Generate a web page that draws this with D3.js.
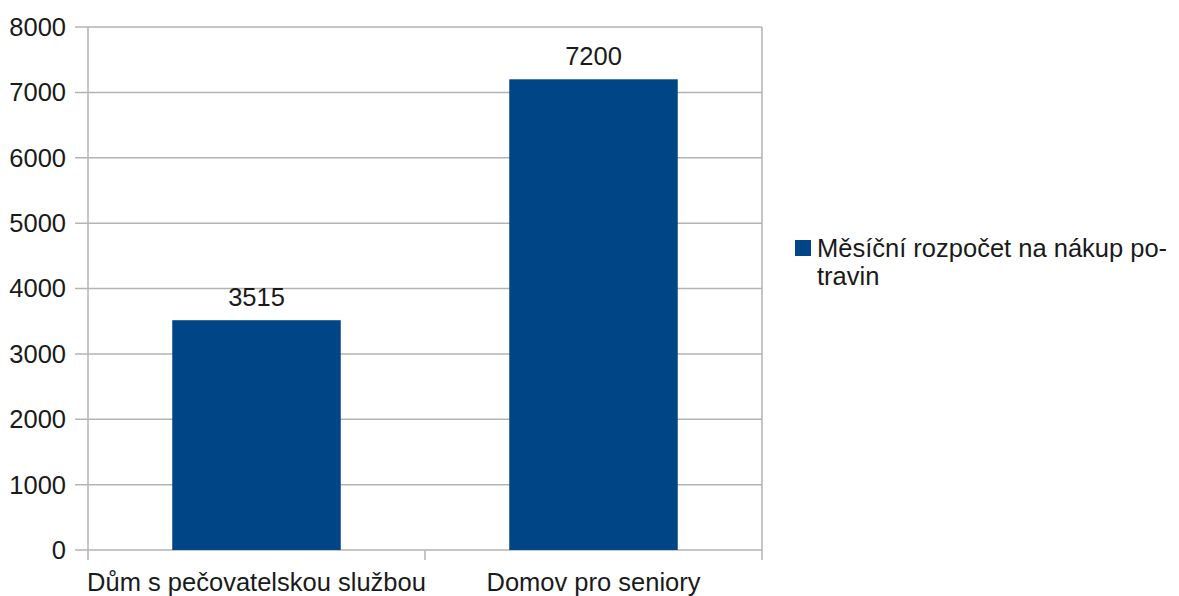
<!DOCTYPE html>
<html>
<head>
<meta charset="utf-8">
<script src="https://cdn.jsdelivr.net/npm/d3@7"></script>
<style>
  html, body { margin: 0; padding: 0; background: #fff; }
  svg { display: block; font-family: "Liberation Sans", Arial, sans-serif; }
</style>
</head>
<body>
<svg id="chart" width="1179" height="596"></svg>
<script>
// Monthly food budget by type of housing
const categories = ["Dům s pečovatelskou službou", "Domov pro seniory"];
const values = [3515, 7200];
const seriesName = ["Měsíční rozpočet na nákup po-", "travin"];
const yTicks = [0, 1000, 2000, 3000, 4000, 5000, 6000, 7000, 8000];

const svg = d3.select("#chart");
const plotLeft = 88, plotRight = 762, plotTop = 27, plotBottom = 550;
const gridColor = "#b3b3b3";
const barColor = "#004586";
const fontSize = 25.5;

const x = d3.scaleBand().domain(categories).range([plotLeft, plotRight]).paddingInner(0).paddingOuter(0);
const y = d3.scaleLinear().domain([0, 8000]).range([plotBottom, plotTop]);

// horizontal grid lines with short outer ticks
svg.append("g").selectAll("line").data(yTicks).join("line")
  .attr("x1", plotLeft - 13).attr("x2", plotRight)
  .attr("y1", d => y(d)).attr("y2", d => y(d))
  .attr("stroke", gridColor).attr("stroke-width", 1.5);

// left and right frame lines, extending below the baseline
[plotLeft, plotRight].forEach(xx => {
  svg.append("line")
    .attr("x1", xx).attr("x2", xx)
    .attr("y1", plotTop).attr("y2", plotBottom + 10)
    .attr("stroke", gridColor).attr("stroke-width", 1.5);
});

// category separators on the x axis
const seps = categories.slice(1).map(c => x(c));
svg.append("g").selectAll("line").data(seps).join("line")
  .attr("x1", d => d).attr("x2", d => d)
  .attr("y1", plotBottom).attr("y2", plotBottom + 10)
  .attr("stroke", gridColor).attr("stroke-width", 1.5);

// y tick labels
svg.append("g").selectAll("text").data(yTicks).join("text")
  .attr("x", 66).attr("y", d => y(d))
  .attr("dy", "0.35em")
  .attr("text-anchor", "end")
  .attr("font-size", fontSize)
  .attr("fill", "#1a1a1a")
  .text(d => d);

// bars
const barW = x.bandwidth() * 0.5;
svg.append("g").selectAll("rect").data(values).join("rect")
  .attr("x", (d, i) => x(categories[i]) + (x.bandwidth() - barW) / 2)
  .attr("width", barW)
  .attr("y", d => y(d))
  .attr("height", d => y(0) - y(d))
  .attr("fill", barColor);

// value labels
svg.append("g").selectAll("text").data(values).join("text")
  .attr("x", (d, i) => x(categories[i]) + x.bandwidth() / 2)
  .attr("y", d => y(d) - 14)
  .attr("text-anchor", "middle")
  .attr("font-size", fontSize)
  .attr("fill", "#1a1a1a")
  .text(d => d);

// category labels
svg.append("g").selectAll("text").data(categories).join("text")
  .attr("x", d => x(d) + x.bandwidth() / 2)
  .attr("y", 591)
  .attr("text-anchor", "middle")
  .attr("font-size", fontSize)
  .attr("fill", "#1a1a1a")
  .text(d => d);

// legend
const lg = svg.append("g");
lg.append("rect").attr("x", 795).attr("y", 240).attr("width", 16).attr("height", 16).attr("fill", barColor);
lg.selectAll("text").data(seriesName).join("text")
  .attr("x", 817).attr("y", (d, i) => 257 + i * 28)
  .attr("font-size", fontSize)
  .attr("fill", "#1a1a1a")
  .text(d => d);
</script>
</body>
</html>
